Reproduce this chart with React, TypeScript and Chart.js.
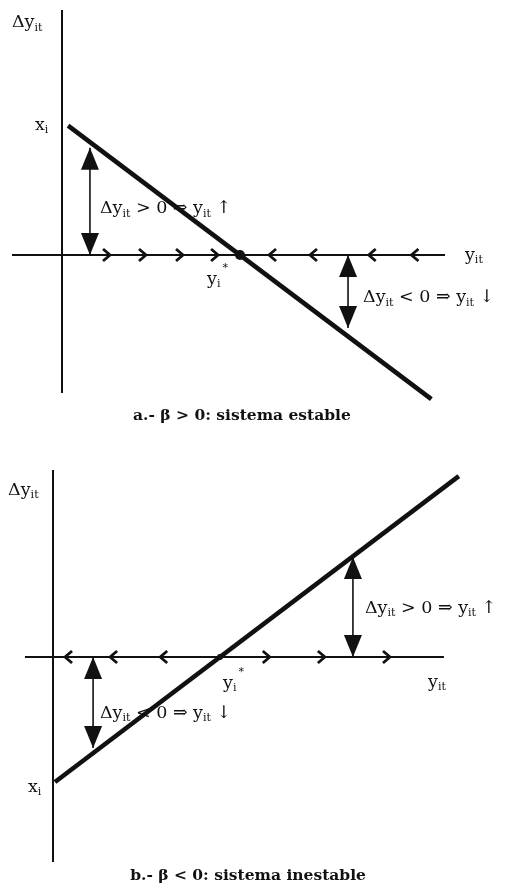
import React, { useEffect, useRef } from "react";
import { Chart, registerables } from "chart.js";

Chart.register(...registerables);

// ---- Panel a: β > 0, stable system ----
const stableLine = [
  { x: 0.34, y: 9.66 },
  { x: 20.75, y: -10.75 },
];
const stableEquilibrium = 10;
const stableRightChevrons = [2.53, 4.55, 6.63, 8.6];
const stableLeftChevrons = [11.8, 14.1, 17.4, 19.8];
const stableArrowX = [1.57, 16.07];
const stableArrowReach = [8.0, -5.45];

// ---- Panel b: β < 0, unstable system ----
const unstableLine = [
  { x: 0.12, y: -9.88 },
  { x: 24.3, y: 14.3 },
];
const unstableEquilibrium = 10;
const unstableRightChevrons = [12.8, 16.1, 20.0];
const unstableLeftChevrons = [0.9, 3.6, 6.6];
const unstableArrowX = [2.4, 17.96];
const unstableArrowReach = [-7.2, 7.9];

type Kind = "n" | "sub" | "sup";
type Seg = [string, Kind];

interface Label {
  x: number;
  y: number;
  segs: Seg[];
  align?: "left" | "center";
  bold?: boolean;
  size?: number;
}

interface Panel {
  height: number;
  xRange: [number, number];
  yRange: [number, number];
  vAxis: [number, number];
  hAxis: [number, number];
  line: { x: number; y: number }[];
  equilibrium: number;
  dotRadius: number;
  rightChevrons: number[];
  leftChevrons: number[];
  arrowX: number[];
  arrowReach: number[];
  labels: Label[];
}

const FAMILY = '"DejaVu Serif", "Liberation Serif", serif';
const INK = "#111111";
const LABEL_SIZE = 17.5;
const CAPTION_SIZE = 15.5;

const dyLabel: Seg[] = [
  ["Δy", "n"],
  ["it", "sub"],
];
const posText = (sign: string, arrow: string): Seg[] => [
  ["Δy", "n"],
  ["it", "sub"],
  [` ${sign} 0 ⇒ y`, "n"],
  ["it", "sub"],
  [` ${arrow}`, "n"],
];

const panels: Panel[] = [
  {
    height: 440,
    xRange: [-3.483, 24.888],
    yRange: [-13.806, 19.03],
    vAxis: [-10.3, 18.28],
    hAxis: [-2.81, 21.52],
    line: stableLine,
    equilibrium: stableEquilibrium,
    dotRadius: 5,
    rightChevrons: stableRightChevrons,
    leftChevrons: stableLeftChevrons,
    arrowX: stableArrowX,
    arrowReach: stableArrowReach,
    labels: [
      { x: -2.81, y: 17.01, segs: dyLabel },
      { x: -1.52, y: 9.33, segs: [["x", "n"], ["i", "sub"]] },
      { x: 2.13, y: 3.13, segs: posText(">", "↑") },
      { x: 16.91, y: -3.51, segs: posText("<", "↓") },
      { x: 8.15, y: -2.16, segs: [["y", "n"], ["i", "sub"], ["*", "sup"]] },
      { x: 22.64, y: -0.37, segs: [["y", "n"], ["it", "sub"]] },
      {
        x: 10.11,
        y: -12.31,
        segs: [["a.- β > 0: sistema estable", "n"]],
        align: "center",
        bold: true,
        size: CAPTION_SIZE,
      },
    ],
  },
  {
    height: 448,
    xRange: [-3.174, 27.066],
    yRange: [-18.26, 17.154],
    vAxis: [-16.21, 14.78],
    hAxis: [-1.68, 23.41],
    line: unstableLine,
    equilibrium: unstableEquilibrium,
    dotRadius: 3,
    rightChevrons: unstableRightChevrons,
    leftChevrons: unstableLeftChevrons,
    arrowX: unstableArrowX,
    arrowReach: unstableArrowReach,
    labels: [
      { x: -2.69, y: 12.81, segs: dyLabel },
      { x: -1.5, y: -10.67, segs: [["x", "n"], ["i", "sub"]] },
      { x: 2.81, y: -4.82, segs: posText("<", "↓") },
      { x: 18.68, y: 3.48, segs: posText(">", "↑") },
      { x: 10.18, y: -2.45, segs: [["y", "n"], ["i", "sub"], ["*", "sup"]] },
      { x: 22.46, y: -2.37, segs: [["y", "n"], ["it", "sub"]] },
      {
        x: 11.68,
        y: -17.63,
        segs: [["b.- β < 0: sistema inestable", "n"]],
        align: "center",
        bold: true,
        size: CAPTION_SIZE,
      },
    ],
  },
];

function drawRich(
  ctx: CanvasRenderingContext2D,
  x: number,
  y: number,
  segs: Seg[],
  size: number,
  bold: boolean,
  align: "left" | "center"
) {
  const weight = bold ? "bold " : "";
  const parts = segs.map(([t, k]) => {
    const fs = k === "n" ? size : Math.round(size * 0.6);
    ctx.font = `${weight}${fs}px ${FAMILY}`;
    return { t, k, fs, w: ctx.measureText(t).width };
  });
  const total = parts.reduce((s, p) => s + p.w, 0);
  let cx = align === "center" ? x - total / 2 : x;
  ctx.textBaseline = "alphabetic";
  ctx.textAlign = "left";
  for (const p of parts) {
    ctx.font = `${weight}${p.fs}px ${FAMILY}`;
    const dy = p.k === "sub" ? size * 0.2 : p.k === "sup" ? -size * 0.75 : 0;
    ctx.fillText(p.t, cx + (p.k === "sup" ? 2 : 0), y + dy);
    cx += p.w;
  }
}

function arrowHead(
  ctx: CanvasRenderingContext2D,
  x: number,
  tipY: number,
  dir: number
) {
  // dir = -1 points up, +1 points down
  const len = 22;
  const half = 9;
  ctx.beginPath();
  ctx.moveTo(x, tipY);
  ctx.lineTo(x - half, tipY - dir * len);
  ctx.lineTo(x + half, tipY - dir * len);
  ctx.closePath();
  ctx.fill();
}

function chevron(ctx: CanvasRenderingContext2D, x: number, y: number, dir: number) {
  // dir = +1 points right, -1 points left
  ctx.beginPath();
  ctx.moveTo(x - dir * 4, y - 6);
  ctx.lineTo(x + dir * 3, y);
  ctx.lineTo(x - dir * 4, y + 6);
  ctx.stroke();
}

function makeOverlay(panel: Panel) {
  return {
    id: "phaseOverlay",
    afterDatasetsDraw(chart: Chart) {
      const ctx = chart.ctx;
      const xs = chart.scales.x;
      const ys = chart.scales.y;
      const px = (v: number) => xs.getPixelForValue(v);
      const py = (v: number) => ys.getPixelForValue(v);
      ctx.save();
      ctx.fillStyle = INK;
      ctx.strokeStyle = INK;
      ctx.lineJoin = "miter";

      // direction marks along the horizontal axis
      ctx.lineWidth = 2.8;
      for (const v of panel.rightChevrons) chevron(ctx, px(v), py(0), 1);
      for (const v of panel.leftChevrons) chevron(ctx, px(v), py(0), -1);

      // double-headed arrows between the axis and the line
      panel.arrowX.forEach((xv, i) => {
        const reach = panel.arrowReach[i];
        const x = px(xv);
        const y0 = py(0);
        const y1 = py(reach);
        const dir = y1 < y0 ? -1 : 1;
        ctx.lineWidth = 1.6;
        ctx.beginPath();
        ctx.moveTo(x, y0);
        ctx.lineTo(x, y1);
        ctx.stroke();
        arrowHead(ctx, x, y1, dir);
        arrowHead(ctx, x, y0, -dir);
      });

      // equilibrium point
      ctx.beginPath();
      ctx.arc(px(panel.equilibrium), py(0), panel.dotRadius, 0, Math.PI * 2);
      ctx.fill();

      // text
      for (const l of panel.labels) {
        drawRich(
          ctx,
          px(l.x),
          py(l.y),
          l.segs,
          l.size ?? LABEL_SIZE,
          !!l.bold,
          l.align ?? "left"
        );
      }
      ctx.restore();
    },
  };
}

function PhasePanel({ panel }: { panel: Panel }) {
  const ref = useRef<HTMLCanvasElement | null>(null);
  useEffect(() => {
    if (!ref.current) return;
    const chart = new Chart(ref.current, {
      type: "scatter",
      data: {
        datasets: [
          {
            data: [
              { x: 0, y: panel.vAxis[0] },
              { x: 0, y: panel.vAxis[1] },
            ],
            showLine: true,
            borderColor: INK,
            borderWidth: 2,
            pointRadius: 0,
          },
          {
            data: [
              { x: panel.hAxis[0], y: 0 },
              { x: panel.hAxis[1], y: 0 },
            ],
            showLine: true,
            borderColor: INK,
            borderWidth: 2,
            pointRadius: 0,
          },
          {
            data: panel.line,
            showLine: true,
            borderColor: INK,
            borderWidth: 4.6,
            pointRadius: 0,
          },
        ],
      },
      options: {
        animation: false,
        responsive: false,
        devicePixelRatio: 1,
        layout: { padding: 0 },
        events: [],
        scales: {
          x: {
            type: "linear",
            min: panel.xRange[0],
            max: panel.xRange[1],
            display: false,
          },
          y: {
            type: "linear",
            min: panel.yRange[0],
            max: panel.yRange[1],
            display: false,
          },
        },
        plugins: {
          legend: { display: false },
          tooltip: { enabled: false },
          title: { display: false },
        },
      },
      plugins: [makeOverlay(panel)],
    });
    return () => chart.destroy();
  }, [panel]);
  return (
    <canvas
      ref={ref}
      width={505}
      height={panel.height}
      style={{ display: "block", width: 505, height: panel.height }}
    />
  );
}

export default function App() {
  return (
    <div
      style={{
        position: "absolute",
        left: 0,
        top: 0,
        width: 505,
        height: 888,
        background: "#ffffff",
      }}
    >
      {panels.map((p, i) => (
        <PhasePanel key={i} panel={p} />
      ))}
    </div>
  );
}
